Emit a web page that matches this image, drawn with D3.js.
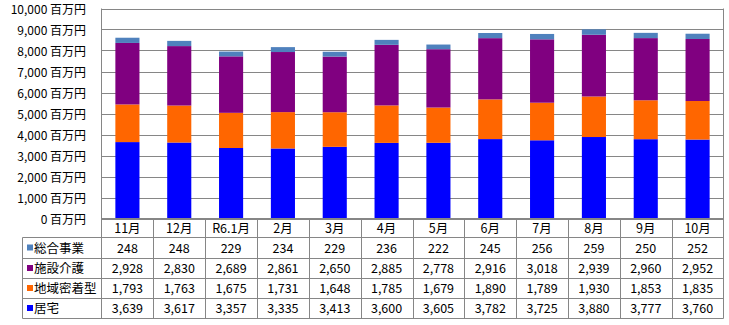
<!DOCTYPE html>
<html><head><meta charset="utf-8">
<script src="https://cdn.jsdelivr.net/npm/d3@7"></script>
<style>
html,body{margin:0;padding:0;background:#fff;}
svg{display:block;}
text{font-family:"Noto Sans CJK JP","Noto Sans",sans-serif;fill:#000;}
</style></head>
<body>
<svg id="c" width="729" height="325"></svg>
<script>
const months = ["11月","12月","R6.1月","2月","3月","4月","5月","6月","7月","8月","9月","10月"];
const kyotaku  = [3639,3617,3357,3335,3413,3600,3605,3782,3725,3880,3777,3760];
const chiiki   = [1793,1763,1675,1731,1648,1785,1679,1890,1789,1930,1853,1835];
const shisetsu = [2928,2830,2689,2861,2650,2885,2778,2916,3018,2939,2960,2952];
const sogo     = [248,248,229,234,229,236,222,245,256,259,250,252];
const seriesNames = ["居宅","地域密着型","施設介護","総合事業"];
const yTicks = [0,1000,2000,3000,4000,5000,6000,7000,8000,9000,10000];

const colors = {"居宅":"#0000FF","地域密着型":"#FF6600","施設介護":"#800080","総合事業":"#4F81BD"};
const seriesVals = {"居宅":kyotaku,"地域密着型":chiiki,"施設介護":shisetsu,"総合事業":sogo};

const svg = d3.select("#c");
const L = 101.5, R = 723.5, T = 8.5, B = 218.5;
const tableLeft = 22.5;
const rowLines = [218.5, 237.5, 258.5, 278.5, 298.5, 318.5];
const grid = "#868686";

const x = d3.scaleBand().domain(months).range([L, R]).padding(0);
const y = d3.scaleLinear().domain([0, 10000]).range([B, T]);

const data = months.map((m, i) => {
  const o = {month: m};
  seriesNames.forEach(s => o[s] = seriesVals[s][i]);
  return o;
});
const stacked = d3.stack().keys(seriesNames)(data);

// gridlines
svg.append("g").selectAll("line").data(yTicks).join("line")
  .attr("x1", L).attr("x2", R)
  .attr("y1", d => Math.round(y(d)) + 0.5).attr("y2", d => Math.round(y(d)) + 0.5)
  .attr("stroke", grid).attr("stroke-width", 1);

// y labels
const yAxis = d3.axisLeft(y).tickValues(yTicks).tickSize(0).tickPadding(0)
  .tickFormat(d => d3.format(",")(d) + " 百万円");
const ga = svg.append("g").attr("transform", `translate(${86},0)`).call(yAxis);
ga.select(".domain").remove();
ga.selectAll("text").attr("font-size", 12).attr("fill", "#000")
  .attr("font-family", '"Noto Sans CJK JP",sans-serif').attr("dy", "0.4em");

// bars
const bw = x.bandwidth() * 0.465;
svg.append("g").selectAll("g").data(stacked).join("g")
  .attr("fill", d => colors[d.key])
  .selectAll("rect").data(d => d).join("rect")
  .attr("x", d => x(d.data.month) + (x.bandwidth() - bw) / 2)
  .attr("width", bw)
  .attr("y", d => y(d[1]))
  .attr("height", d => y(d[0]) - y(d[1]));

// table lines
const gl = svg.append("g").attr("stroke", grid).attr("stroke-width", 1);
gl.append("line").attr("x1", L).attr("x2", L).attr("y1", T).attr("y2", rowLines[5]);
gl.append("line").attr("x1", R).attr("x2", R).attr("y1", T).attr("y2", rowLines[5]);
rowLines.forEach((ry, i) => {
  gl.append("line").attr("x1", i === 0 ? L : tableLeft).attr("x2", R).attr("y1", ry).attr("y2", ry);
});
gl.append("line").attr("x1", tableLeft).attr("x2", tableLeft).attr("y1", rowLines[1]).attr("y2", rowLines[5]);
months.slice(1).forEach(m => {
  const xx = Math.round(x(m)) + 0.5;
  gl.append("line").attr("x1", xx).attr("x2", xx).attr("y1", B).attr("y2", rowLines[5]);
});

// month headers
svg.append("g").selectAll("text").data(months).join("text")
  .attr("x", d => x(d) + x.bandwidth() / 2)
  .attr("y", (rowLines[0] + rowLines[1]) / 2)
  .attr("dy", "0.38em").attr("text-anchor", "middle").attr("font-size", 12.5)
  .text(d => d);

// table rows
const tableOrder = seriesNames.slice().reverse();
const fmt = d3.format(",");
tableOrder.forEach((s, r) => {
  const cy = (rowLines[r + 1] + rowLines[r + 2]) / 2;
  svg.append("rect").attr("x", 27).attr("y", cy - 3.5).attr("width", 6).attr("height", 6)
    .attr("fill", colors[s]);
  svg.append("text").attr("x", 34).attr("y", cy).attr("dy", "0.38em")
    .attr("font-size", 12.5).text(s);
  svg.append("g").selectAll("text").data(seriesVals[s]).join("text")
    .attr("x", (d, i) => x(months[i]) + x.bandwidth() / 2)
    .attr("y", cy).attr("dy", "0.38em").attr("text-anchor", "middle")
    .attr("font-size", 12.5).text(d => fmt(d));
});
</script>
</body></html>
